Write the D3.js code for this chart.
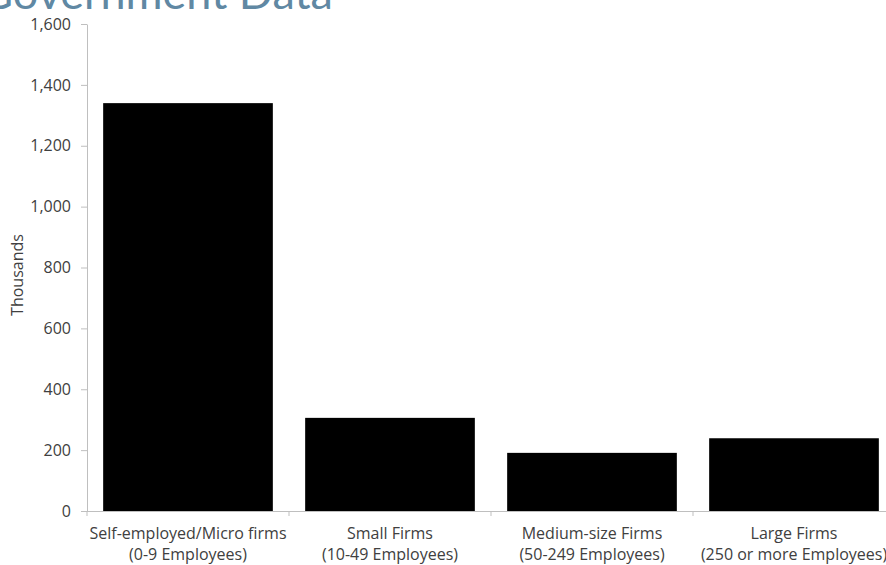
<!DOCTYPE html>
<html><head><meta charset="utf-8">
<script src="https://cdn.jsdelivr.net/npm/d3@7"></script>
<style>body{margin:0;background:#fff;overflow:hidden}svg{display:block}</style>
</head><body>
<svg id="c" width="886" height="565"></svg>
<script>
const categories = [
  ["Self-employed/Micro firms","(0-9 Employees)"],
  ["Small Firms","(10-49 Employees)"],
  ["Medium-size Firms","(50-249 Employees)"],
  ["Large Firms","(250 or more Employees)"]
];
const values = [1340, 306, 191, 239];
const yTicks = [0,200,400,600,800,1000,1200,1400,1600];
const titleText = "Government Data";
const yLabel = "Thousands";

const svg = d3.select("#c");
const font = "'Open Sans', Lato, sans-serif";
const x0 = 87, x1 = 895, yTop = 24, yBot = 511;
const x = d3.scaleBand().domain(d3.range(categories.length)).range([x0, x1]).paddingInner(0.16).paddingOuter(0.08);
const y = d3.scaleLinear().domain([0,1600]).range([yBot, yTop]);

svg.append("text").attr("x",333).attr("y",9).attr("text-anchor","end")
  .attr("font-family","Lato, sans-serif").attr("font-size",45).attr("fill","#6088a3").text(titleText);

// bars
svg.selectAll("rect.bar").data(values).join("rect").attr("class","bar")
  .attr("x",(d,i)=>x(i)).attr("width",x.bandwidth())
  .attr("y",d=>y(d)).attr("height",d=>yBot-y(d)).attr("fill","#000");

// y axis
const ya = svg.append("g").attr("transform",`translate(${x0},0)`)
  .call(d3.axisLeft(y).tickValues(yTicks).tickSize(6).tickSizeOuter(0).tickFormat(d3.format(",")));
ya.select(".domain").attr("stroke","#bfbfbf");
ya.selectAll(".tick line").attr("stroke","#bfbfbf");
ya.selectAll(".tick text").attr("font-family",font).attr("font-size",16).attr("fill","#404040").attr("x",-16);

// x axis
const step = x.step();
const xa = svg.append("g");
xa.append("line").attr("x1",x0).attr("x2",886).attr("y1",yBot+0.5).attr("y2",yBot+0.5).attr("stroke","#bfbfbf");
const bounds = d3.range(categories.length+1).map(i=>x0+i*step);
xa.selectAll("line.t").data(bounds).join("line").attr("class","t")
  .attr("x1",d=>d).attr("x2",d=>d).attr("y1",yBot).attr("y2",yBot+5).attr("stroke","#bfbfbf");
const lab = svg.selectAll("text.cat").data(categories).join("text").attr("class","cat")
  .attr("text-anchor","middle").attr("font-family",font).attr("font-size",16).attr("fill","#404040");
lab.each(function(d,i){
  const t = d3.select(this); const cx = x(i)+x.bandwidth()/2;
  t.append("tspan").attr("x",cx).attr("y",539).text(d[0]);
  t.append("tspan").attr("x",cx).attr("y",560).text(d[1]);
});

svg.append("text").attr("transform","translate(23,275) rotate(-90)").attr("text-anchor","middle")
  .attr("font-family",font).attr("font-size",16).attr("fill","#404040").text(yLabel);
</script>
</body></html>
